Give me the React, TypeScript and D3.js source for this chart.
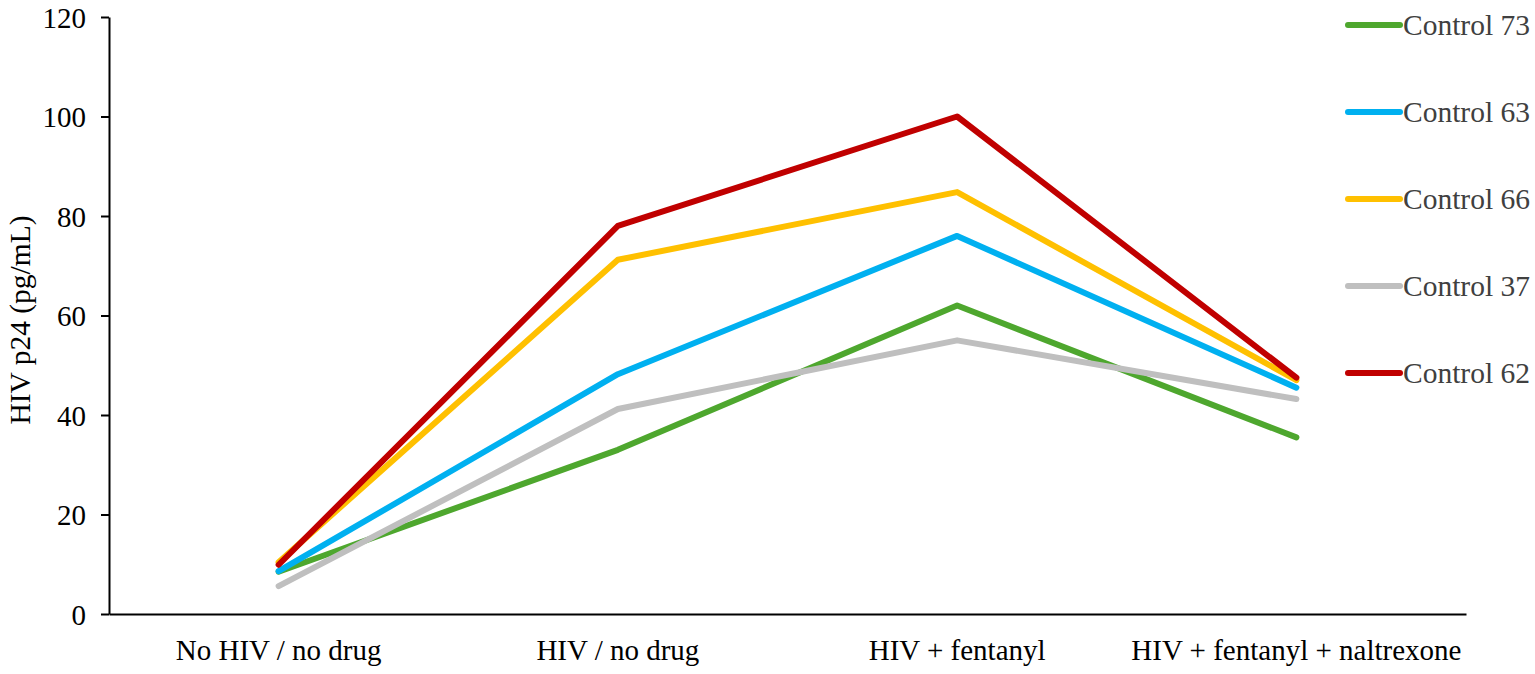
import { useEffect, useRef } from 'react';
import * as d3 from "d3";

const categories = ["No HIV / no drug", "HIV / no drug", "HIV + fentanyl", "HIV + fentanyl + naltrexone"];
const seriesNames = ["Control 73", "Control 63", "Control 66", "Control 37", "Control 62"];
const seriesColors = ["#4ea72e", "#00b0f0", "#ffc000", "#bfbfbf", "#c00000"];
const control73 = [8.5, 33, 62, 35.5];
const control63 = [8.6, 48.2, 76, 45.5];
const control66 = [10.4, 71.2, 84.8, 47];
const control37 = [5.6, 41.2, 55, 43.2];
const control62 = [9.9, 78, 100, 47.5];
const yTicks = [0, 20, 40, 60, 80, 100, 120];

export default function App() {
  const chartRef = useRef<SVGSVGElement>(null);

  useEffect(() => {
    if (!chartRef.current) return;
    d3.select(chartRef.current).selectAll("*").remove();

    const width = 1535;
    const height = 674;
    const marginTop = 17;
    const marginLeft = 109;
    const plotRight = 1466;
    const plotBottom = 614;
    const font = "'Liberation Serif', 'Times New Roman', serif";

    const allSeries = [control73, control63, control66, control37, control62];

    const x = d3.scaleBand()
      .domain(categories)
      .range([marginLeft, plotRight])
      .padding(0);

    const y = d3.scaleLinear()
      .domain([0, 120])
      .range([plotBottom, marginTop]);

    const svg = d3.select(chartRef.current)
      .attr("viewBox", [0, 0, width, height])
      .attr("width", width)
      .attr("height", height)
      .style("font-family", font);

    // y-axis
    const yAxis = svg.append("g")
      .attr("transform", `translate(${marginLeft},0)`)
      .call(d3.axisLeft(y).tickValues(yTicks).tickSize(8).tickPadding(15).tickSizeOuter(0));
    yAxis.select(".domain").attr("stroke", "#000").attr("stroke-width", 2);
    yAxis.selectAll(".tick line").attr("stroke", "#000").attr("stroke-width", 2);
    yAxis.selectAll("text")
      .attr("font-size", 29)
      .attr("font-family", font)
      .attr("fill", "#000")
      .attr("dy", "0.35em");

    // x-axis
    const xAxis = svg.append("g")
      .attr("transform", `translate(0,${plotBottom})`)
      .call(d3.axisBottom(x).tickSize(0).tickPadding(0).tickSizeOuter(0));
    xAxis.select(".domain").attr("stroke", "#000").attr("stroke-width", 2);
    xAxis.selectAll("text")
      .attr("font-size", 29)
      .attr("font-family", font)
      .attr("fill", "#000")
      .attr("dy", 0)
      .attr("y", 46);

    // y label
    svg.append("text")
      .attr("text-anchor", "middle")
      .attr("transform", "rotate(-90)")
      .attr("x", -320)
      .attr("y", 30)
      .attr("font-size", 29.5)
      .attr("fill", "#000")
      .text("HIV p24 (pg/mL)");

    // lines
    const line = d3.line<number>()
      .x((_, i) => (x(categories[i]) || 0) + x.bandwidth() / 2)
      .y(d => y(d));

    svg.append("g")
      .selectAll("path")
      .data(allSeries)
      .join("path")
      .attr("fill", "none")
      .attr("stroke", (_, i) => seriesColors[i])
      .attr("stroke-width", 6)
      .attr("stroke-linecap", "round")
      .attr("stroke-linejoin", "round")
      .attr("d", d => line(d));

    // legend
    const legend = svg.append("g")
      .selectAll("g")
      .data(seriesNames)
      .join("g")
      .attr("transform", (_, i) => `translate(1348,${25 + i * 87})`);

    legend.append("line")
      .attr("x1", 0)
      .attr("x2", 52)
      .attr("stroke", (_, i) => seriesColors[i])
      .attr("stroke-width", 6)
      .attr("stroke-linecap", "round");

    legend.append("text")
      .attr("x", 55)
      .attr("dy", "0.35em")
      .attr("font-size", 29.5)
      .attr("fill", "#404040")
      .text(d => d);
  }, []);

  return (
    <svg ref={chartRef} style={{ position: "absolute", left: 0, top: 0 }}></svg>
  );
}
